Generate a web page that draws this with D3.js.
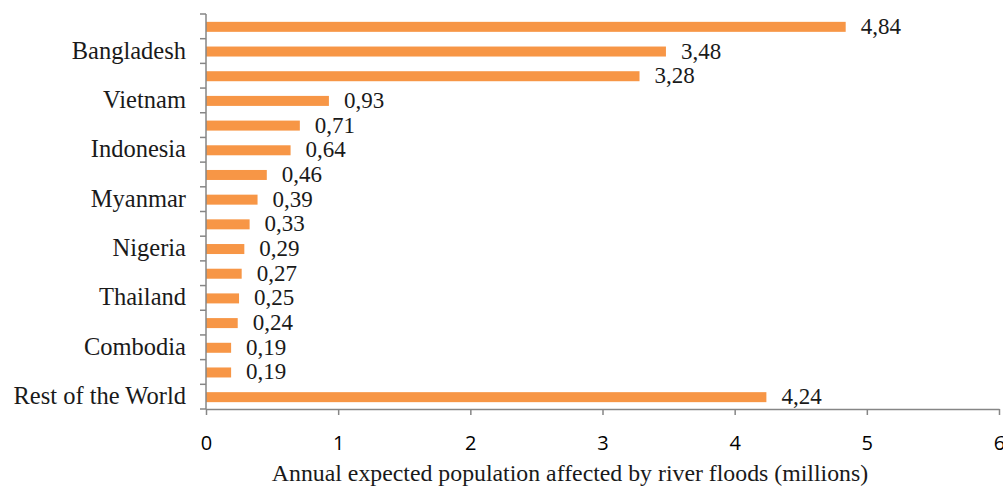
<!DOCTYPE html>
<html>
<head>
<meta charset="utf-8">
<script src="https://cdn.jsdelivr.net/npm/d3@7"></script>
<style>
  html, body { margin: 0; padding: 0; background: #ffffff; }
  svg { display: block; }
</style>
</head>
<body>
<svg id="chart" width="1003" height="489"></svg>
<script>
// Annual expected population affected by river floods, millions
const countries = [
  "India", "Bangladesh", "China", "Vietnam", "Pakistan", "Indonesia",
  "Egypt", "Myanmar", "Afghanistan", "Nigeria", "Brazil", "Thailand",
  "DR Congo", "Combodia", "Iraq", "Rest of the World"
];
const affected = [4.84, 3.48, 3.28, 0.93, 0.71, 0.64, 0.46, 0.39, 0.33, 0.29, 0.27, 0.25, 0.24, 0.19, 0.19, 4.24];
const xTicks = [0, 1, 2, 3, 4, 5, 6];
const xTitle = "Annual expected population affected by river floods (millions)";

(function drawChart() {
  const data = countries.map((c, i) => ({ country: c, value: affected[i] }));

  const svg = d3.select("#chart");
  const plot = { left: 206, right: 999, top: 14, bottom: 409 };
  const axisColor = "#868686";
  const barColor = "#F79646";
  const serif = "'Liberation Serif', 'DejaVu Serif', serif";
  const sans = "'Open Sans', Lato, sans-serif";

  const x = d3.scaleLinear().domain([0, 6]).range([plot.left, plot.right]);
  const y = d3.scaleBand().domain(countries).range([plot.top, plot.bottom]).paddingInner(0).paddingOuter(0);
  const barH = 10;

  // bars
  svg.append("g").selectAll("rect").data(data).join("rect")
    .attr("x", x(0))
    .attr("y", d => y(d.country) + y.bandwidth() / 2 - barH / 2 + 0.5)
    .attr("width", d => x(d.value) - x(0))
    .attr("height", barH)
    .attr("fill", barColor);

  // value labels
  const fmt = v => v.toFixed(2).replace(".", ",");
  svg.append("g").selectAll("text").data(data).join("text")
    .attr("x", d => x(d.value) + 15)
    .attr("y", d => y(d.country) + y.bandwidth() / 2 + 7.5)
    .attr("font-family", serif)
    .attr("font-size", 23)
    .attr("fill", "#1a1a1a")
    .text(d => fmt(d.value));

  // y axis line with ticks at band edges
  const yAxis = svg.append("g");
  yAxis.append("line")
    .attr("x1", plot.left).attr("x2", plot.left)
    .attr("y1", plot.top).attr("y2", plot.bottom)
    .attr("stroke", axisColor).attr("stroke-width", 1.5);
  const edges = countries.map(c => y(c)).concat([plot.bottom]);
  yAxis.selectAll("line.tick").data(edges).join("line")
    .attr("class", "tick")
    .attr("x1", plot.left - 6).attr("x2", plot.left)
    .attr("y1", d => d).attr("y2", d => d)
    .attr("stroke", axisColor).attr("stroke-width", 1.5);

  // category labels (every other category)
  yAxis.selectAll("text").data(countries.filter((c, i) => i % 2 === 1)).join("text")
    .attr("x", 186)
    .attr("y", d => y(d) + y.bandwidth() / 2 + 7.5)
    .attr("text-anchor", "end")
    .attr("font-family", serif)
    .attr("font-size", 24.5)
    .attr("fill", "#1a1a1a")
    .text(d => d);

  // x axis
  const xAxis = d3.axisBottom(x).tickValues(xTicks).tickSize(6).tickSizeOuter(0).tickFormat(d3.format("d"));
  const gx = svg.append("g").attr("transform", `translate(0,${plot.bottom})`).call(xAxis);
  gx.select(".domain").attr("stroke", axisColor).attr("stroke-width", 1.5);
  gx.selectAll(".tick line").attr("stroke", axisColor).attr("stroke-width", 1.5);
  gx.selectAll(".tick text")
    .attr("y", 27)
    .attr("font-family", sans)
    .attr("font-size", 20)
    .attr("fill", "#000");

  // x axis title
  svg.append("text")
    .attr("x", 570).attr("y", 481)
    .attr("text-anchor", "middle")
    .attr("font-family", serif)
    .attr("font-size", 23.8)
    .attr("fill", "#1a1a1a")
    .text(xTitle);
})();
</script>
</body>
</html>
